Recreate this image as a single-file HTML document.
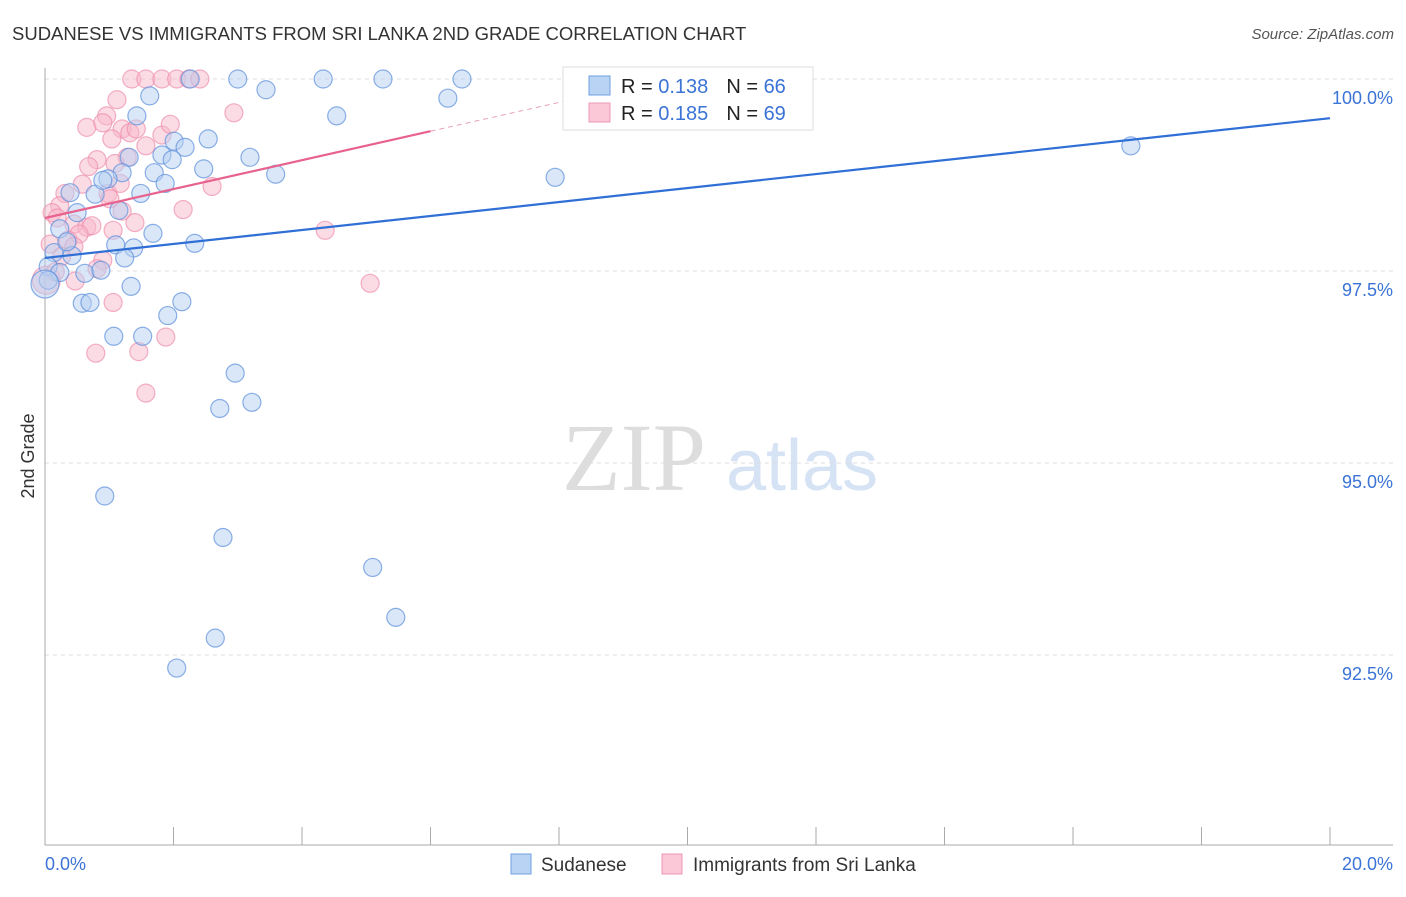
<!DOCTYPE html>
<html><head><meta charset="utf-8"><style>
body{margin:0;background:#fff;font-family:"Liberation Sans",sans-serif}
svg text{font-family:"Liberation Sans",sans-serif}
</style></head><body>
<svg width="1406" height="892" viewBox="0 0 1406 892">
<text x="12" y="40" font-size="18.5" fill="#333">SUDANESE VS IMMIGRANTS FROM SRI LANKA 2ND GRADE CORRELATION CHART</text>
<text x="1394" y="39" font-size="15" fill="#555" font-style="italic" text-anchor="end">Source: ZipAtlas.com</text>
<g>
<text x="634" y="490" font-size="96" fill="#ddd" text-anchor="middle" font-family="Liberation Serif" style="font-family:'Liberation Serif',serif">ZIP</text>
<text x="802" y="490" font-size="72" fill="#d6e3f5" text-anchor="middle">atlas</text>
</g>
<g id="grid"></g>
<g id="axes"></g>
<g id="pts"></g>
<g id="trend"></g>
<text transform="translate(34,456) rotate(-90)" font-size="18" fill="#333" text-anchor="middle">2nd Grade</text>
<g>
<rect x="563" y="67" width="250" height="63" fill="#fff" stroke="#ddd"/>
<rect x="589" y="76" width="21" height="19" fill="#b9d3f5" stroke="#6f9fe0"/>
<rect x="589" y="103" width="21" height="19" fill="#fac8d7" stroke="#ee9ab4"/>
<text x="621" y="93" font-size="20" fill="#222">R = <tspan fill="#3b73d6">0.138</tspan><tspan dx="18">N = </tspan><tspan fill="#3b73d6">66</tspan></text>
<text x="621" y="120" font-size="20" fill="#222">R = <tspan fill="#3b73d6">0.185</tspan><tspan dx="18">N = </tspan><tspan fill="#3b73d6">69</tspan></text>
</g>
<g>
<rect x="511" y="854" width="20" height="20" fill="#b9d3f5" stroke="#6f9fe0"/>
<text x="541" y="871" font-size="19" fill="#333">Sudanese</text>
<rect x="662" y="854" width="20" height="20" fill="#fac8d7" stroke="#ee9ab4"/>
<text x="693" y="871" font-size="19" fill="#333">Immigrants from Sri Lanka</text>
</g>
</svg>
<script>
const blueX=[1.63,3.00,3.44,4.33,5.26,6.49,6.27,2.26,1.43,4.54,2.01,2.18,2.54,1.82,1.98,3.19,1.31,1.70,2.47,3.59,1.87,1.49,7.94,16.90,10.15,1.20,0.98,0.78,0.39,1.15,0.50,1.68,0.23,1.10,1.38,2.33,0.14,0.42,1.24,0.05,0.23,0.62,0.87,1.34,0.58,0.70,2.13,1.91,1.07,1.52,2.96,2.72,3.22,0.93,2.77,5.10,5.46,2.65,2.05,0.05,0,0.90,0.34];
const blueY=[99.78,100,99.86,100,100,100,99.75,100,99.52,99.52,99.19,99.11,99.22,99.01,98.95,98.98,98.98,98.78,98.83,98.76,98.64,98.51,98.72,99.13,99.47,98.78,98.70,98.50,98.52,98.29,98.26,97.99,98.05,97.84,97.80,97.86,97.74,97.70,97.67,97.56,97.48,97.47,97.51,97.30,97.08,97.09,97.10,96.92,96.65,96.65,96.17,95.71,95.79,94.57,94.03,93.64,92.99,92.72,92.33,97.38,97.33,98.68,97.88];
const pinkX=[1.35,1.57,1.82,2.05,2.24,2.41,1.12,0.96,2.94,0.65,0.90,1.20,1.32,1.42,1.04,1.57,1.82,1.28,0.81,0.68,1.09,2.60,2.15,0.58,0.31,0.98,0.23,0.11,0.19,0.45,0.65,0.73,0.53,0.36,0.08,0.45,0.26,1.20,1.40,1.06,0.90,0.81,4.36,5.06,0.47,1.06,1.88,0.79,1.46,1.57,1.17,1.01,0.02,0.16,1.95];
const pinkY=[100,100,100,100,100,100,99.73,99.52,99.56,99.37,99.43,99.35,99.30,99.35,99.22,99.13,99.27,98.98,98.95,98.86,98.90,98.60,98.30,98.63,98.51,98.51,98.35,98.26,98.19,98.11,98.07,98.09,97.98,97.90,97.85,97.82,97.69,98.28,98.13,98.03,97.64,97.53,98.03,97.34,97.37,97.09,96.64,96.43,96.45,95.91,98.64,98.44,97.38,97.49,99.41];
const yTicks=[100,97.5,95,92.5];
const yTickLabels=["100.0%","97.5%","95.0%","92.5%"];
const blueTrend=[[0,97.67],[20,99.49]];
const pinkTrend=[[0,98.19],[6,99.32]];
const pinkTrendDash=[[6,99.32],[8.4,99.77]];
const NS="http://www.w3.org/2000/svg";
const X=v=>45+v/20*1285;
const Y=v=>79+(100-v)/2.5*192;
function mk(t,a,p){const e=document.createElementNS(NS,t);for(const k in a)e.setAttribute(k,a[k]);p.appendChild(e);return e;}
const grid=document.getElementById('grid'),axes=document.getElementById('axes'),pts=document.getElementById('pts'),trend=document.getElementById('trend');
yTicks.forEach((t,i)=>{
 const l=mk('line',{x1:45,x2:1393,y1:Y(t),y2:Y(t),stroke:'#ddd','stroke-dasharray':'4,4'},grid);
 
 
 const tx=mk('text',{x:1393,y:Y(t)+25,'font-size':18,fill:'#3b73d6','text-anchor':'end'},axes);
 tx.textContent=yTickLabels[i];
 
 
});
let a=mk('line',{x1:45,x2:45,y1:68,y2:845,stroke:'#aaa'},axes);


a=mk('line',{x1:45,x2:1393,y1:845,y2:845,stroke:'#aaa'},axes);


for(let i=0;i<=10;i++){
 const t=mk('line',{x1:X(i*2),x2:X(i*2),y1:827,y2:845,stroke:'#aaa'},axes);
 
 
}
let xl=mk('text',{x:45,y:870,'font-size':18,fill:'#3b73d6'},axes);xl.textContent='0.0%';


xl=mk('text',{x:1393,y:870,'font-size':18,fill:'#3b73d6','text-anchor':'end'},axes);xl.textContent='20.0%';


function dots(xs,ys,fill,stroke,name){
 xs.forEach((x,i)=>{
  const big=x<0.03;
  const c=mk('circle',{cx:X(x),cy:Y(ys[i]),r:big?14:9,fill:fill,'fill-opacity':0.5,stroke:stroke,'stroke-opacity':0.7,'stroke-width':1.2},pts);
  
  
 });
}
dots(pinkX,pinkY,'#f7b7ca','#ee8fae','point-srilanka');
dots(blueX,blueY,'#b5cff2','#5b8fdc','point-sudanese');
let t=mk('line',{x1:X(blueTrend[0][0]),y1:Y(blueTrend[0][1]),x2:X(blueTrend[1][0]),y2:Y(blueTrend[1][1]),stroke:'#2f6fd6','stroke-width':2.2},trend);


t=mk('line',{x1:X(pinkTrend[0][0]),y1:Y(pinkTrend[0][1]),x2:X(pinkTrend[1][0]),y2:Y(pinkTrend[1][1]),stroke:'#e8628e','stroke-width':2.2},trend);


t=mk('line',{x1:X(pinkTrendDash[0][0]),y1:Y(pinkTrendDash[0][1]),x2:X(pinkTrendDash[1][0]),y2:Y(pinkTrendDash[1][1]),stroke:'#e8a0b8','stroke-width':1,'stroke-dasharray':'5,4'},trend);


</script>
</body></html>
